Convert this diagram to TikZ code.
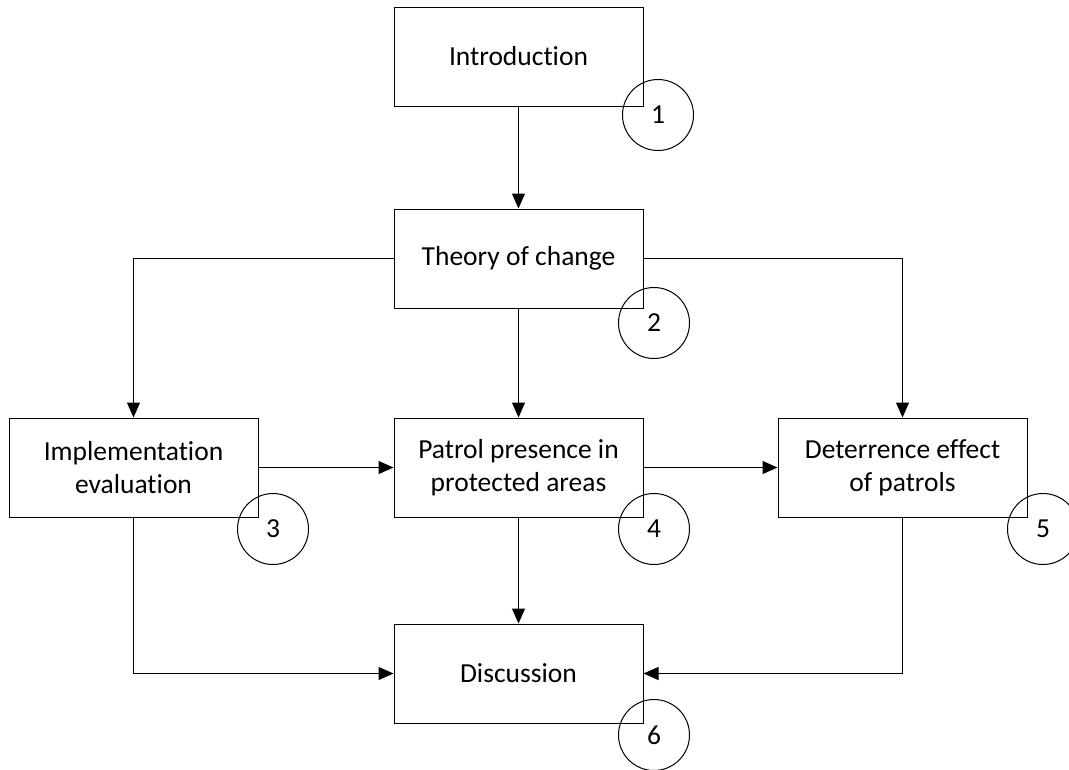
\documentclass[tikz,border=0pt]{standalone}
\usepackage{fontspec}
\setmainfont{Carlito}[Ligatures=NoCommon]
\usetikzlibrary{arrows.meta}
\begin{document}
\begin{tikzpicture}[x=1pt,y=-1pt,
  box/.style={draw, line width=1pt, minimum width=249pt, minimum height=99pt, inner sep=0pt, align=center, font=\fontsize{27.5}{33}\selectfont},
  num/.style={draw, circle, line width=1pt, minimum size=71pt, inner sep=0pt, font=\fontsize{27.5}{33}\selectfont},
  conn/.style={line width=1pt, -{Triangle[length=15pt,width=13pt]}}]
\useasboundingbox (0,0) rectangle (1069,769);
\node[box] (intro)  at (518.5,56.5) {Introduction};
\node[box] (theory) at (518.5,258.5) {Theory of change};
\node[box] (impl)   at (133.5,467.5) {Implementation\\evaluation};
\node[box] (patrol) at (518.5,467.5) {Patrol presence in\\protected areas};
\node[box] (deter)  at (902.5,467.5) {Deterrence effect\\of patrols};
\node[box] (disc)   at (518.5,673.5) {Discussion};
\node[num] (n1) at (658,115) {1};
\node[num] (n2) at (654,323) {2};
\node[num] (n3) at (273,529) {3};
\node[num] (n4) at (654,529) {4};
\node[num] (n5) at (1043,529) {5};
\node[num] (n6) at (654,735) {6};
\draw[conn] (intro) -- (theory);
\draw[conn] (theory.west) -| (impl.north);
\draw[conn] (theory.east) -| (deter.north);
\draw[conn] (theory) -- (patrol);
\draw[conn] (impl) -- (patrol);
\draw[conn] (patrol) -- (deter);
\draw[conn] (patrol) -- (disc);
\draw[conn] (impl.south) |- (disc.west);
\draw[conn] (deter.south) |- (disc.east);
\end{tikzpicture}
\end{document}
